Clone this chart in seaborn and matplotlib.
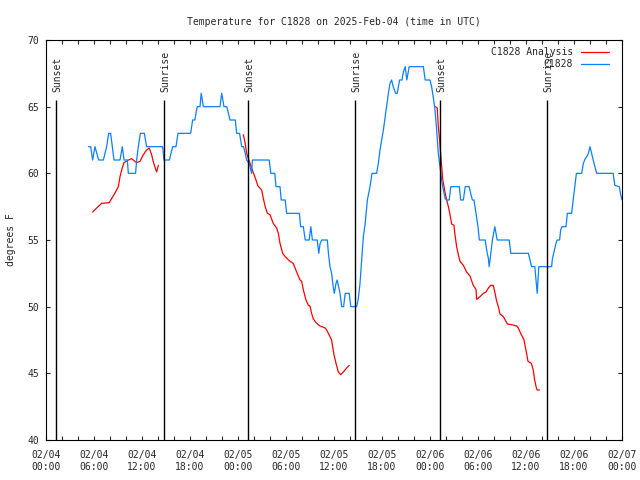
import numpy as np
import pandas as pd
import matplotlib
matplotlib.use("Agg")
import matplotlib.pyplot as plt
import seaborn as sns

# Hours since 2025-02-04 00:00 UTC
obs_hours = [5.3, 5.58, 5.83, 6.12, 6.58, 7.17, 7.58, 7.83, 8.08, 8.5, 9.25, 9.54, 9.75, 10.17,
             10.29, 11.2, 11.33, 11.54, 11.79, 12.29, 12.58, 14.58, 14.75, 15.42, 15.83, 16.25,
             16.5, 18.08, 18.33, 18.6, 18.9, 19.25, 19.4, 19.67, 21.75, 21.96, 22.25, 22.6, 23.0,
             23.67, 23.83, 24.2, 24.46, 24.7, 24.9, 25.08, 25.4, 25.5, 25.7, 25.8, 27.9, 28.1,
             28.6, 28.75, 29.25, 29.4, 29.9, 30.08, 31.67, 31.83, 32.17, 32.4, 32.9, 33.1, 33.3,
             33.9, 34.1, 34.25, 34.46, 35.17, 35.3, 35.5, 35.7, 35.9, 36.04, 36.25, 36.4, 36.75,
             36.96, 37.2, 37.4, 37.9, 38.1, 38.83, 39.04, 39.25, 39.46, 39.67, 39.9, 40.17, 40.5,
             40.75, 41.33, 41.54, 41.75, 41.96, 42.17, 42.4, 42.6, 42.8, 43.0, 43.2, 43.4, 43.7,
             43.9, 44.2, 44.5, 44.67, 44.9, 45.1, 45.4, 47.17, 47.4, 48.0, 48.2, 48.4, 48.6, 48.8,
             49.04, 49.25, 49.46, 49.67, 49.9, 50.08, 50.4, 50.6, 51.67, 51.83, 52.17, 52.4, 52.9,
             53.08, 53.3, 53.5, 53.75, 54.0, 54.17, 54.9, 55.08, 55.3, 55.4, 55.6, 55.8, 56.1,
             56.4, 57.9, 58.1, 60.3, 60.5, 60.7, 61.1, 61.25, 61.4, 61.6, 63.2, 63.3, 63.5, 63.75,
             63.9, 64.2, 64.33, 64.5, 65.0, 65.17, 65.7, 65.9, 66.1, 66.3, 66.96, 67.17, 67.4,
             67.6, 67.8, 68.0, 68.2, 68.4, 68.83, 70.9, 71.1, 71.67, 71.83, 72.0]
obs_temps = [62, 62, 61, 62, 61, 61, 62, 63, 63, 61, 61, 62, 61, 61,
             60, 60, 61, 62, 63, 63, 62, 62, 61, 61, 62, 62,
             63, 63, 64, 64, 65, 65, 66, 65, 65, 66, 65, 65, 64,
             64, 63, 63, 62, 62, 61.5, 61, 60.75, 60.5, 60, 61, 61, 60,
             60, 59, 59, 58, 58, 57, 57, 56, 56, 55, 55, 56, 55,
             55, 54, 54.7, 55, 55, 54, 53, 52.5, 51.5, 51, 51.75, 52, 51,
             50, 50, 51, 51, 50, 50, 50.6, 51.75, 53.5, 55.25, 56.25, 58, 59,
             60, 60, 60.75, 61.75, 62.5, 63.25, 64.25, 65.1, 66, 66.75, 67, 66.5, 66,
             66, 67, 67, 67.6, 68, 67, 68, 68, 67, 67, 66.5, 65.75, 64.9, 63.5,
             61.5, 60.5, 59.5, 58.75, 58.1, 58, 58, 59, 59, 58, 58, 59, 59,
             58.5, 58, 58, 57, 56, 55, 55, 54.25, 53.6, 53, 54, 55, 56,
             55, 55, 54, 54, 53.5, 53, 53, 52, 51, 53, 53, 53.6, 54.1, 54.75,
             55, 55, 55.75, 56, 56, 57, 57, 58, 59, 60, 60, 60.75, 61.1,
             61.25, 61.5, 62, 61.5, 61, 60, 60, 59.1, 59, 58.4, 58]

ana_hours = [5.83, 6.33, 6.96, 7.9, 8.2, 8.6, 9.04, 9.25, 9.46, 9.75, 10.3, 10.7, 11.33, 11.75,
             12.17, 12.58, 12.9, 13.2, 13.4, 13.6, 13.83, 14.04,
             24.67, 24.9, 25.08, 25.3, 25.5, 25.7, 26.1, 26.5, 26.96, 27.17, 27.4, 27.67, 28.0,
             28.4, 28.83, 29.04, 29.25, 29.58, 29.9, 30.5, 30.9, 31.33, 31.75, 31.96, 32.17, 32.5,
             32.8, 33.0, 33.2, 33.4, 33.75, 34.25, 34.9, 35.08, 35.5, 35.7, 35.83, 36.0, 36.25,
             36.54, 36.83, 37.17, 37.58, 37.9,
             48.7, 48.9, 49.04, 49.2, 49.33, 49.46, 49.6, 49.9, 50.08, 50.3, 50.5, 50.7, 51.0,
             51.1, 51.33, 51.54, 51.75, 52.17, 52.58, 53.0, 53.4, 53.75, 53.83, 54.25, 54.67, 55.0,
             55.3, 55.58, 55.9, 56.1, 56.3, 56.54, 56.75, 57.17, 57.4, 57.67, 58.2, 58.83, 59.04,
             59.33, 59.67, 59.75, 60.04, 60.25, 60.67, 60.9, 61.08, 61.3, 61.4, 61.7]
ana_temps = [57.1, 57.4, 57.75, 57.8, 58.1, 58.5, 59, 59.75, 60.25, 60.8, 61, 61.1, 60.8, 60.9,
             61.4, 61.75, 61.9, 61.4, 60.9, 60.5, 60.1, 60.6,
             62.9, 62.25, 61.5, 61.1, 60.75, 60.4, 59.75, 59.05, 58.75, 58.1, 57.5, 57, 56.9,
             56.25, 55.9, 55.5, 54.75, 54, 53.75, 53.4, 53.25, 52.6, 52, 51.9, 51.25, 50.5,
             50.1, 50.05, 49.5, 49.1, 48.8, 48.55, 48.4, 48.25, 47.75, 47.5, 47, 46.4, 45.75,
             45.1, 44.9, 45.1, 45.4, 45.6,
             65, 64.9, 63.5, 62.5, 61.5, 60.5, 59.5, 58.5, 58, 57.5, 56.9, 56.2, 56.1,
             55.5, 54.5, 53.9, 53.4, 53.1, 52.6, 52.3, 51.6, 51.3, 50.55, 50.75, 51, 51.1,
             51.4, 51.6, 51.6, 51.1, 50.5, 50, 49.45, 49.25, 49, 48.7, 48.65, 48.55, 48.4,
             48, 47.6, 47.5, 46.6, 45.9, 45.75, 45.25, 44.5, 43.9, 43.75, 43.75]
ana_segment = [1] * 22 + [2] * 44 + [3] * 50

sun_hours = [1.28, 14.79, 25.3, 38.66, 49.25, 62.66]
sun_labels = ["Sunset", "Sunrise", "Sunset", "Sunrise", "Sunset", "Sunrise"]

tick_hours = [0, 6, 12, 18, 24, 30, 36, 42, 48, 54, 60, 66, 72]
tick_labels = ["02/04\n00:00", "02/04\n06:00", "02/04\n12:00", "02/04\n18:00",
               "02/05\n00:00", "02/05\n06:00", "02/05\n12:00", "02/05\n18:00",
               "02/06\n00:00", "02/06\n06:00", "02/06\n12:00", "02/06\n18:00",
               "02/07\n00:00"]

obs = pd.DataFrame({"hour": obs_hours, "temp": obs_temps})
ana = pd.DataFrame({"hour": ana_hours, "temp": ana_temps, "seg": ana_segment})

sns.set_style("ticks")
plt.rcParams['font.family'] = ['DejaVu Sans Mono']
plt.rcParams['font.size'] = 7

fig = plt.figure(figsize=(6.4, 4.8), dpi=100)
ax = fig.add_axes([46 / 640, 40 / 480, 576 / 640, 400 / 480])

# analysis line, drawn segment by segment so the gaps stay open
for i, (seg, part) in enumerate(ana.groupby("seg")):
    sns.lineplot(data=part, x="hour", y="temp", ax=ax, color="#ff0000", lw=0.9,
                 label="C1828 Analysis" if i == 0 else None, estimator=None, sort=False)
sns.lineplot(data=obs, x="hour", y="temp", ax=ax, color="#0a80ff", lw=0.9,
             label="C1828", estimator=None, sort=False)

# sunrise / sunset markers
for h, lab in zip(sun_hours, sun_labels):
    ax.vlines(h, 40, 65.5, color="black", lw=1)
    ax.text(h + 0.15, 66.1, lab, rotation=90, ha="center", va="bottom", fontsize=7)

ax.set_xlim(0, 72)
ax.set_ylim(40, 70)
ax.set_xticks(np.arange(0, 73, 2))
ax.set_xticklabels([tick_labels[tick_hours.index(h)] if h in tick_hours else "" for h in range(0, 73, 2)])
ax.set_yticks(np.arange(40, 71, 5))
ax.tick_params(direction="in", length=3, width=0.8, top=True, right=True, labelsize=7)
ax.tick_params(axis="x", pad=7.5)
ax.tick_params(axis="y", pad=5)
for sp in ax.spines.values():
    sp.set_visible(True)
    sp.set_color("black")
    sp.set_linewidth(0.8)

ax.set_xlabel("")
ax.set_ylabel("degrees F", fontsize=7, labelpad=8)
ax.set_title("Temperature for C1828 on 2025-Feb-04 (time in UTC)", fontsize=7, pad=11)

ax.legend(loc="upper right", bbox_to_anchor=(1 - 6 / 576, 1 - 0.5 / 400), frameon=False,
          markerfirst=False, fontsize=7, handlelength=2.9, borderaxespad=0.3,
          labelspacing=0.2, handletextpad=0.8)

plt.savefig("out.png", dpi=100)
plt.close()
